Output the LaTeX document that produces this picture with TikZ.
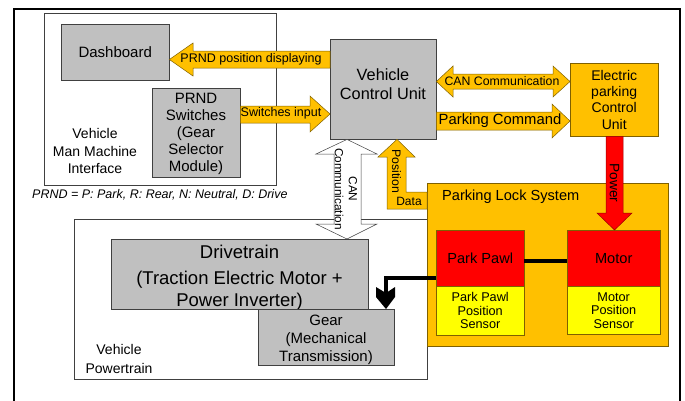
\documentclass[tikz,border=0pt]{standalone}
\usepackage{fontspec}
\setmainfont{Liberation Sans}
\usetikzlibrary{calc}

\definecolor{boxgray}{HTML}{C0C0C0}
\definecolor{edgegray}{HTML}{404040}
\definecolor{plsorange}{HTML}{FFC000}
\definecolor{orangeedge}{HTML}{7F6000}
\definecolor{pawlred}{HTML}{FF0000}
\definecolor{sensyellow}{HTML}{FFFF00}

\begin{document}
\begin{tikzpicture}[x=1pt,y=-1pt,
  every node/.style={inner sep=0pt,align=center},
  framebox/.style={draw=edgegray,fill=white,anchor=north west},
  graybox/.style={draw=edgegray,fill=boxgray,anchor=north west},
  orangebox/.style={draw=orangeedge,fill=plsorange,anchor=north west},
  redbox/.style={draw=orangeedge,fill=pawlred,anchor=north west},
  sensbox/.style={draw=orangeedge,fill=sensyellow,anchor=north west},
  blockarrow/.style={draw=orangeedge,fill=plsorange,line width=0.5pt},
  powerarrow/.style={draw=pawlred!60!black,fill=pawlred,line width=0.5pt},
  canarrow/.style={draw=edgegray,fill=white,line width=0.5pt}]
  \useasboundingbox (0,0) rectangle (685,400);
  \draw[line width=2pt] (14,410) -- (14,9) -- (680,9) -- (680,410);

  % human machine interface
  \node[framebox,minimum width=232pt,minimum height=172pt] (hmi) at (44,13) {};
  \node[font=\fontsize{14}{17.5}\selectfont] (hmilabel) at (95,151) {Vehicle\\Man Machine\\Interface};
  \node[graybox,minimum width=108pt,minimum height=56pt,font=\fontsize{15}{16}\selectfont] (dash) at (61,24) {Dashboard};
  \node[graybox,minimum width=88pt,minimum height=89pt,font=\fontsize{15}{17}\selectfont] (prnd) at (152,88) {};
  \node[font=\fontsize{15}{17}\selectfont] (prndlabel) at (196,134) {PRND\\Switches\\(Gear\\Selector\\Module)};
  \node[font=\fontsize{12.5}{14}\selectfont\itshape,anchor=west] (legend) at (32,195) {PRND = P: Park, R: Rear, N: Neutral, D: Drive};

  % control units
  \node[graybox,minimum width=106pt,minimum height=100pt] (vcu) at (330,39) {};
  \node[font=\fontsize{16.3}{19}\selectfont] (vculabel) at (383,84) {Vehicle\\Control Unit};
  \node[orangebox,minimum width=88pt,minimum height=73pt,font=\fontsize{14}{16.3}\selectfont] (epcu) at (570,63) {Electric\\parking\\Control\\Unit};

  % powertrain
  \node[framebox,minimum width=353pt,minimum height=160pt] (ptrain) at (74,219) {};
  \node[font=\fontsize{14}{19}\selectfont] (ptrainlabel) at (119,359) {Vehicle\\Powertrain};
  \node[graybox,minimum width=257pt,minimum height=70pt] (drive) at (111,239) {};
  \node[font=\fontsize{18.5}{22}\selectfont] (drivelabel) at (239.5,278) {Drivetrain\\[4pt](Traction Electric Motor +\\Power Inverter)};
  \node[graybox,minimum width=136pt,minimum height=56pt] (gear) at (258,309) {};
  \node[font=\fontsize{15}{18}\selectfont] (gearlabel) at (326,340) {Gear\\(Mechanical\\Transmission)};

  % parking lock system
  \node[orangebox,minimum width=241pt,minimum height=163pt] (plock) at (427,183) {};
  \node[font=\fontsize{14.6}{16}\selectfont,anchor=west] (plocklabel) at (442,197) {Parking Lock System};
  \node[redbox,minimum width=88pt,minimum height=56pt,font=\fontsize{14.6}{16}\selectfont] (pawl) at (436,230) {Park Pawl};
  \node[sensbox,minimum width=88pt,minimum height=49pt,font=\fontsize{12.7}{13.5}\selectfont] (pawlsens) at (436,286) {Park Pawl\\Position\\Sensor};
  \node[redbox,minimum width=93pt,minimum height=56pt,font=\fontsize{14.6}{16}\selectfont] (motor) at (567,230) {Motor};
  \node[sensbox,minimum width=93pt,minimum height=48pt,font=\fontsize{12.7}{13.5}\selectfont] (motorsens) at (567,286) {Motor\\Position\\Sensor};

  % block arrows
  \draw[blockarrow] (vcu.west |- 0,51) -- (193,51) -- (193,43) -- (dash.east |- 0,59.5)
    -- (193,76) -- (193,68) -- (vcu.west |- 0,68) -- cycle;
  \node[font=\fontsize{12.5}{14}\selectfont] (disptext) at (251,59.5) {PRND position displaying};

  \draw[blockarrow] (prnd.east |- 0,106) -- (310,106) -- (310,96) -- (vcu.west |- 0,114)
    -- (310,132) -- (310,123) -- (prnd.east |- 0,123) -- cycle;
  \node[font=\fontsize{12.5}{14}\selectfont] (switchtext) at (281,113) {Switches input};

  \draw[blockarrow] (vcu.east |- 0,81.5) -- (453,66) -- (453,74) -- (553,74) -- (553,66)
    -- (epcu.west |- 0,81.5) -- (553,97) -- (553,89) -- (453,89) -- (453,97) -- cycle;
  \node[font=\fontsize{12.3}{14}\selectfont] (cantext) at (502,81.5) {CAN Communication};

  \draw[blockarrow] (vcu.east |- 0,112) -- (552,112) -- (552,104) -- (epcu.west |- 0,121)
    -- (552,138) -- (552,130) -- (vcu.east |- 0,130) -- cycle;
  \node[font=\fontsize{14.8}{16}\selectfont] (cmdtext) at (500,121) {Parking Command};

  \draw[powerarrow] (606,0 |- epcu.south) -- (606,213) -- (597,213) -- (614.5,0 |- motor.north)
    -- (632,213) -- (623,213) -- (623,0 |- epcu.south) -- cycle;
  \node[font=\fontsize{13.7}{14}\selectfont,rotate=-90] (powertext) at (614.5,183) {Power};

  \draw[canarrow] (347,0 |- vcu.south) -- (377,154) -- (361,154) -- (361,224) -- (377,224)
    -- (347,0 |- drive.north) -- (316,224) -- (334,224) -- (334,154) -- (316,154) -- cycle;
  \node[font=\fontsize{11.8}{14}\selectfont,rotate=-90] (canvtext) at (346,189) {CAN\\Communication};

  \draw[blockarrow] (397,0 |- vcu.south) -- (415,157) -- (406,157) -- (406,192) -- (plock.west |- 0,192)
    -- (plock.west |- 0,209) -- (387,209) -- (387,157) -- (378,157) -- cycle;
  \node[font=\fontsize{12.3}{13}\selectfont,rotate=-90] (postext) at (396.5,171) {Position};
  \node[font=\fontsize{12}{13}\selectfont] (datatext) at (409,201) {Data};

  % mechanical links
  \draw[line width=4pt] ([yshift=-3pt]pawl.east) -- ([yshift=-3pt]motor.west);
  \draw[line width=4pt] (pawl.west |- 0,278) -| (386,293);
  \fill (376,287) -- (386,293) -- (395,287) -- (395,297) -- (386,0 |- gear.north) -- (376,297) -- cycle;
\end{tikzpicture}
\end{document}
